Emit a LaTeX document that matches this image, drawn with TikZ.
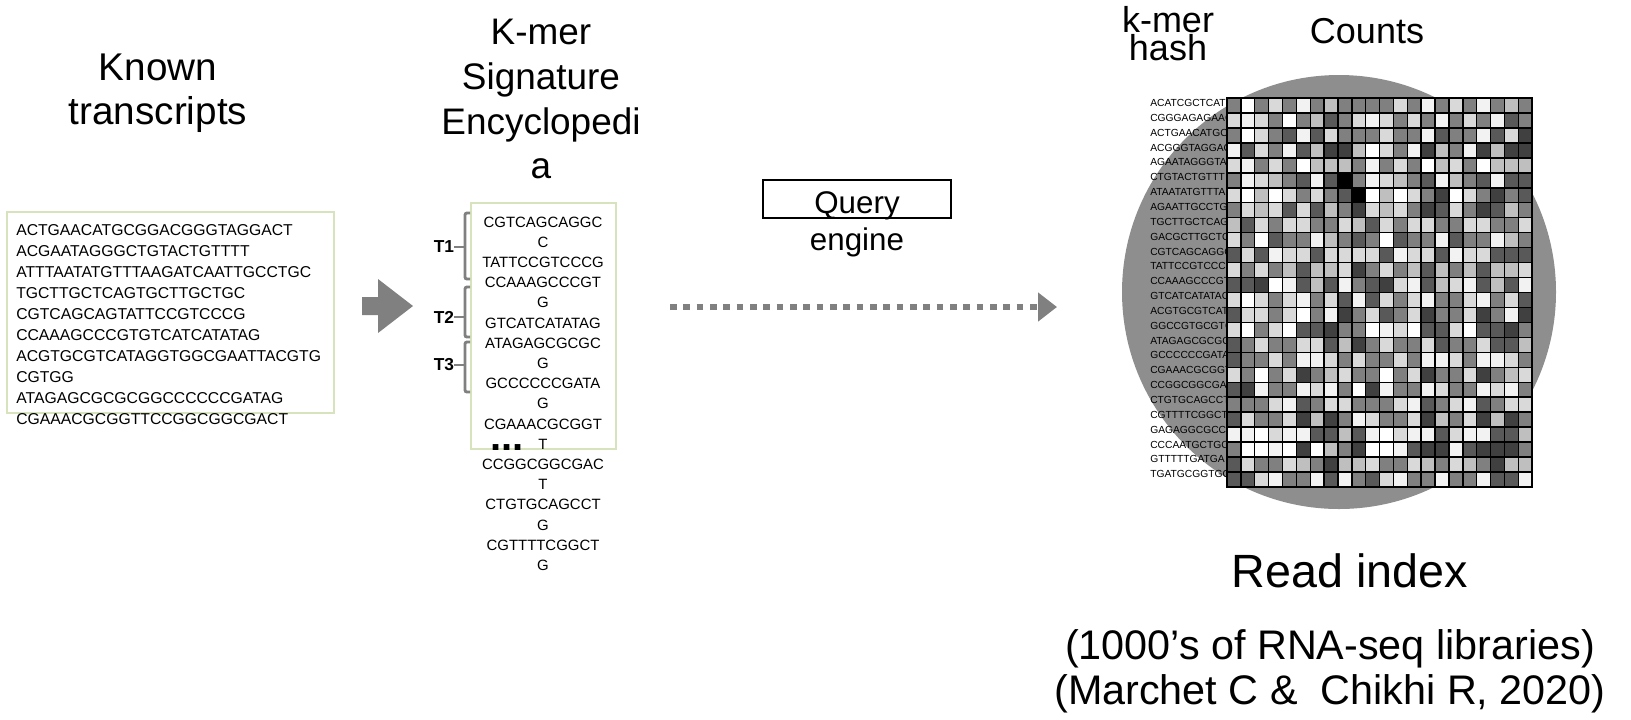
\documentclass[tikz,border=0pt]{standalone}
\usepackage{fontspec}
\setmainfont{Liberation Sans}
\usepackage{xcolor}
\usetikzlibrary{positioning, arrows.meta}

\definecolor{framegreen}{HTML}{D6E3BC}
\definecolor{arrowgray}{HTML}{808080}
\definecolor{discgray}{HTML}{8E8E8E}
\definecolor{lev0}{HTML}{FFFFFF}
\definecolor{lev1}{HTML}{F2F2F2}
\definecolor{lev2}{HTML}{D9D9D9}
\definecolor{lev3}{HTML}{BFBFBF}
\definecolor{lev4}{HTML}{808080}
\definecolor{lev5}{HTML}{595959}
\definecolor{lev6}{HTML}{404040}
\definecolor{lev7}{HTML}{000000}

\begin{document}
\begin{tikzpicture}[x=0.75pt, y=-0.75pt, inner sep=0pt, >=Latex,
    heading/.style={font=\fontsize{29}{33}\selectfont, align=center, anchor=north},
    seqframe/.style={draw=framegreen, line width=0.9pt},
    seqline/.style={font=\fontsize{11.8}{14}\selectfont, anchor=west},
    kmerline/.style={font=\fontsize{11.2}{14}\selectfont},
    hashlabel/.style={font=\fontsize{7.7}{9}\selectfont, anchor=west},
    cell/.style={draw=black, line width=1.1pt},
    bracket/.style={draw=arrowgray, line width=2.2pt, rounded corners=1.5pt},
    tlabel/.style={font=\fontsize{13}{15}\selectfont\bfseries}]
    \useasboundingbox (0,0) rectangle (1631,719);

    % Titles
    \node (known) [heading] at (158,54) {Known\\transcripts};
    \node (kmer) [heading, font=\fontsize{27.7}{33.5}\selectfont] at (541,19) {K-mer\\Signature\\Encyclopedi\\a};
    \node (hash) [heading, font=\fontsize{27}{21}\selectfont] at (1168,6) {k-mer\\hash};
    \node (counts) [heading, font=\fontsize{27}{30}\selectfont] at (1367,18) {Counts};

    % Known transcripts
    \node (knownbox) [seqframe, minimum width=245.25pt, minimum height=150.75pt] at (170.5,312.5) {};
    \foreach \s [count=\i] in {ACTGAACATGCGGACGGGTAGGACT, ACGAATAGGGCTGTACTGTTTT,
        ATTTAATATGTTTAAGATCAATTGCCTGC, TGCTTGCTCAGTGCTTGCTGC, CGTCAGCAGTATTCCGTCCCG,
        CCAAAGCCCGTGTCATCATATAG, ACGTGCGTCATAGGTGGCGAATTACGTG, CGTGG,
        ATAGAGCGCGCGGCCCCCCGATAG, CGAAACGCGGTTCCGGCGGCGACT}
        \node (seq\i) [seqline] at (16, {230.5+21*(\i-1)}) {\s};

    % Block arrow
    \fill[arrowgray] (362,297) -- (378,297) -- (378,279) -- (413,306) -- (378,333) -- (378,315) -- (362,315) -- cycle;

    % Encyclopedia
    \node (kmerbox) [seqframe, minimum width=108.75pt, minimum height=184.5pt] at (543.5,326) {};
    \foreach \s [count=\i] in {CGTCAGCAGGC, C, TATTCCGTCCCG, CCAAAGCCCGT, G, GTCATCATATAG,
        ATAGAGCGCGC, G, GCCCCCCGATA, G, CGAAACGCGGT, T, CCGGCGGCGAC, T,
        CTGTGCAGCCT, G, CGTTTTCGGCT, G}
        \node (km\i) [kmerline] at (543, {222+20.2*(\i-1)}) {\s};
    \node (more) [anchor=base, font=\fontsize{30}{30}\selectfont\bfseries] at (507,450) {...};

    \node (tone) [tlabel] at (444,247) {T1};
    \node (ttwo) [tlabel] at (444,317) {T2};
    \node (tthree) [tlabel] at (444,365) {T3};
    \draw[bracket] (470,213) -- (465,213) -- (465,279) -- (470,279);
    \draw[bracket] (470,287) -- (465,287) -- (465,337) -- (470,337);
    \draw[bracket] (470,342) -- (465,342) -- (465,392) -- (470,392);
    \draw[bracket] (465,247) -- (tone.east);
    \draw[bracket] (465,317) -- (ttwo.east);
    \draw[bracket] (465,365) -- (tthree.east);

    % Query engine
    \node (query) [draw, line width=0.8pt, minimum width=141pt, minimum height=28.5pt,
        text height=21pt, text depth=0pt, font=\fontsize{23.5}{28}\selectfont] at (857,199) {Query};
    \node (engine) [below=7pt of query, font=\fontsize{23.5}{28}\selectfont] {engine};
    \coordinate (qfrom) at (670,307);
    \coordinate (qto) at (1057,307);
    \draw[draw=arrowgray, line width=4.5pt, dash pattern=on 5pt off 5pt,
        -{Triangle[length=14.25pt, width=21pt]}] (qfrom) -- (qto);

    % Read index
    \fill[discgray] (1339,292) circle [radius=217];
    \foreach \lab [count=\i] in {ACATCGCTCAT, CGGGAGAGAAG, ACTGAACATGC, ACGGGTAGGAC,
        AGAATAGGGTA, CTGTACTGTTT, ATAATATGTTTA, AGAATTGCCTGC, TGCTTGCTCAGT,
        GACGCTTGCTGC, CGTCAGCAGGC, TATTCCGTCCCG, CCAAAGCCCGT, GTCATCATATAG,
        ACGTGCGTCAT, GGCCGTGCGTC, ATAGAGCGCGC, GCCCCCCGATA, CGAAACGCGGT,
        CCGGCGGCGAC, CTGTGCAGCCT, CGTTTTCGGCT, GAGAGGCGCCC, CCCAATGCTGC,
        GTTTTTGATGA, TGATGCGGTGC}
        \node (h\i) [hashlabel] at (1150, {103+14.85*(\i-1)}) {\lab};
    \foreach \vals [count=\i] in {
        {4,0,4,2,4,1,4,3,4,4,4,4,2,4,1,4,2,4,1,4,3,4},
        {2,1,2,4,0,4,3,5,4,2,1,2,4,2,4,1,4,2,4,1,5,4},
        {4,0,2,4,5,1,5,2,4,4,4,2,4,4,1,5,4,4,1,5,2,6},
        {1,5,2,4,1,5,3,6,6,3,0,2,4,1,6,3,4,1,6,3,6,6},
        {2,1,4,2,4,0,3,3,3,4,1,4,2,4,0,3,2,4,0,3,3,3},
        {4,1,2,3,4,5,1,5,7,4,1,2,3,4,5,1,3,4,5,1,5,5},
        {2,0,3,0,2,4,2,4,5,7,0,3,0,2,4,6,0,2,4,6,4,5},
        {4,2,3,2,5,2,5,3,4,6,2,3,2,4,6,5,2,4,6,5,3,4},
        {3,5,2,4,2,2,4,4,2,3,5,2,4,2,2,4,4,2,2,4,4,2},
        {2,4,0,5,4,4,1,3,4,5,4,0,5,4,4,1,5,4,4,1,3,4},
        {5,2,5,1,2,2,5,2,2,2,2,5,1,2,2,5,1,2,2,5,5,5},
        {2,4,2,4,3,5,3,3,2,6,4,2,4,3,5,3,4,3,5,3,3,2},
        {5,5,6,0,1,5,3,5,1,4,5,6,2,1,5,3,2,1,5,3,5,1},
        {2,0,2,4,2,1,4,2,5,1,5,2,4,2,1,4,4,2,1,4,2,5},
        {5,2,2,4,2,0,4,1,6,4,2,5,4,2,6,4,4,2,6,4,1,6},
        {2,0,4,2,0,5,5,6,4,4,0,1,2,0,5,5,2,0,5,5,6,4},
        {5,4,2,4,4,2,2,5,3,6,4,2,4,4,2,5,4,4,2,5,5,3},
        {5,4,4,2,4,1,1,2,4,2,4,4,2,4,1,1,2,4,1,1,2,4},
        {2,4,0,4,2,6,4,3,2,4,4,0,4,2,6,4,4,2,6,4,3,2},
        {5,6,1,4,4,1,2,1,4,0,6,1,4,4,1,2,4,4,1,2,1,4},
        {4,4,4,2,1,5,4,2,2,4,4,4,2,1,5,4,2,1,5,4,2,2},
        {5,2,4,4,2,6,3,6,4,1,2,4,4,2,6,3,4,2,6,3,6,4},
        {1,1,0,2,1,1,5,5,3,5,1,0,2,1,1,5,2,1,1,5,5,3},
        {4,0,0,1,0,6,0,3,4,6,0,0,1,5,6,6,1,5,6,6,6,4},
        {5,2,4,4,2,3,4,6,3,3,2,4,4,2,3,4,2,3,4,6,3,3},
        {5,5,2,1,4,4,1,5,1,4,5,2,1,4,4,1,4,4,1,5,5,1}}{
        \foreach \v [count=\j] in \vals
            \filldraw[cell, fill=lev\v] ({1227+13.87*(\j-1)}, {98+14.96*(\i-1)}) rectangle ++(13.87,14.96);
    }

    \node (readidx) [heading, font=\fontsize{35}{40}\selectfont] at (1350,553) {Read index};
    \node (cite) [heading, font=\fontsize{31}{33.7}\selectfont] at (1330,629)
        {(1000’s of RNA-seq libraries)\\(Marchet C \& \ Chikhi R, 2020)};

\end{tikzpicture}
\end{document}
